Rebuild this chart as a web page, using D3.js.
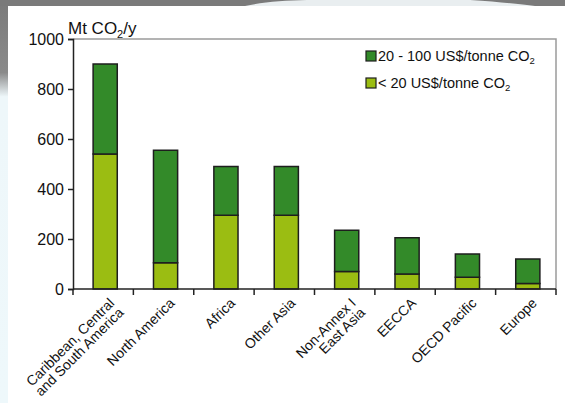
<!DOCTYPE html>
<html>
<head>
<meta charset="utf-8">
<script src="https://cdn.jsdelivr.net/npm/d3@7"></script>
<style>
  html, body { margin: 0; padding: 0; background: #fff; }
  svg { display: block; font-family: "Liberation Sans", Arial, sans-serif; }
</style>
</head>
<body>
<svg id="chart" width="565" height="403"></svg>
<script>
// Regions (two-line labels split on "\n")
const regions = [
  "Caribbean, Central\nand South America",
  "North America",
  "Africa",
  "Other Asia",
  "Non-Annex I\nEast Asia",
  "EECCA",
  "OECD Pacific",
  "Europe"
];
// Potential below 20 US$/tonne CO2 (Mt CO2/y)
const below20 = [540, 105, 295, 295, 70, 60, 47, 22];
// Additional potential at 20-100 US$/tonne CO2 (Mt CO2/y)
const from20to100 = [360, 450, 195, 195, 165, 145, 93, 98];
const yTicks = [0, 200, 400, 600, 800, 1000];
const seriesNames = ["20 - 100 US$/tonne CO", "< 20 US$/tonne CO"];
const colors = { low: "#9bbd12", high: "#338a29" };

const svg = d3.select("#chart");
const W = 565, H = 403;

// slide backdrop
const defs = svg.append("defs");
const lg = defs.append("linearGradient").attr("id", "leftStrip")
  .attr("x1", 0).attr("y1", 0).attr("x2", 0).attr("y2", 1);
lg.append("stop").attr("offset", "0").attr("stop-color", "#7a7a7a");
lg.append("stop").attr("offset", "0.18").attr("stop-color", "#8a8a8a");
lg.append("stop").attr("offset", "0.24").attr("stop-color", "#eef7fa");
lg.append("stop").attr("offset", "1").attr("stop-color", "#eef8fb");
svg.append("rect").attr("width", W).attr("height", H).attr("fill", "#fff");
svg.append("rect").attr("x", 0).attr("y", 0).attr("width", 8).attr("height", H).attr("fill", "url(#leftStrip)");
svg.append("rect").attr("x", 0).attr("y", 0).attr("width", W).attr("height", 6).attr("fill", "#7a7a7a");
svg.append("path")
  .attr("d", "M245,6 C280,-2 330,0 380,0 L470,0 C500,2 520,4 535,6 Z")
  .attr("fill", "#e9eef0");

const margin = { left: 73, top: 39, right: 9, bottom: 114 };
const x0 = margin.left, x1 = W - margin.right;
const yBase = H - margin.bottom;

const x = d3.scaleBand().domain(regions).range([x0 + 2, x1 + 2]).paddingInner(0.6).paddingOuter(0.3);
const xTicksScale = d3.scaleBand().domain(regions).range([x0, x1]);
const y = d3.scaleLinear().domain([0, 1000]).range([yBase, margin.top]);

// plot frame (top and right)
svg.append("path")
  .attr("d", `M${x0},${margin.top}H${x1}V${yBase}`)
  .attr("fill", "none").attr("stroke", "#9a9a9a").attr("stroke-width", 1.5);

// stacked bars
const stackData = regions.map((r, i) => ({ region: r, low: below20[i], high: from20to100[i] }));
const stack = d3.stack().keys(["low", "high"])(stackData);
svg.append("g").selectAll("g").data(stack).join("g")
  .attr("fill", d => colors[d.key])
  .selectAll("rect").data(d => d).join("rect")
  .attr("x", d => x(d.data.region))
  .attr("width", x.bandwidth())
  .attr("y", d => y(d[1]))
  .attr("height", d => y(d[0]) - y(d[1]))
  .attr("stroke", "#1e1e1e").attr("stroke-width", 1.5);

// y axis
const yAxis = svg.append("g").attr("transform", `translate(${x0},0)`)
  .call(d3.axisLeft(y).tickValues(yTicks).tickFormat(d3.format("d")).tickSize(5).tickPadding(4));
yAxis.attr("font-family", null).attr("font-size", null);
yAxis.select(".domain").attr("stroke", "#222").attr("stroke-width", 1.5);
yAxis.selectAll(".tick line").attr("stroke", "#222").attr("stroke-width", 1.5);
yAxis.selectAll(".tick text").attr("font-size", 16).attr("fill", "#111");

// x axis baseline and boundary ticks
const xAxis = svg.append("g");
xAxis.append("line").attr("x1", x0).attr("x2", x1).attr("y1", yBase).attr("y2", yBase)
  .attr("stroke", "#222").attr("stroke-width", 1.5);
const bounds = regions.map(r => xTicksScale(r)).concat([x1]);
xAxis.selectAll(".bt").data(bounds).join("line")
  .attr("x1", d => d).attr("x2", d => d).attr("y1", yBase).attr("y2", yBase + 6)
  .attr("stroke", "#222").attr("stroke-width", 1.5);

// category labels, rotated
const labels = svg.append("g").selectAll("text").data(regions).join("text")
  .attr("transform", r => `translate(${xTicksScale(r) + xTicksScale.bandwidth() / 2 + 9},${yBase + 12}) rotate(-45)`)
  .attr("text-anchor", "end").attr("font-size", 14).attr("fill", "#111");
labels.each(function(r) {
  const lines = r.split("\n");
  d3.select(this).selectAll("tspan").data(lines).join("tspan")
    .attr("x", 0).attr("dy", (d, i) => i === 0 ? "0.3em" : "0.95em")
    .text(d => d);
});

// unit label
const unit = svg.append("text").attr("x", 68).attr("y", 34).attr("font-size", 17).attr("fill", "#111");
unit.append("tspan").text("Mt CO");
unit.append("tspan").attr("font-size", 11).attr("dy", 4).text("2");
unit.append("tspan").attr("dy", -4).text("/y");

// legend
const legend = svg.append("g");
const legendItems = [
  { name: seriesNames[0], color: colors.high, y: 51 },
  { name: seriesNames[1], color: colors.low, y: 78 }
];
legendItems.forEach(it => {
  legend.append("rect").attr("x", 366).attr("y", it.y).attr("width", 10).attr("height", 10)
    .attr("fill", it.color).attr("stroke", "#1e1e1e").attr("stroke-width", 1.2);
  const t = legend.append("text").attr("x", 378).attr("y", it.y + 10).attr("font-size", 14.5).attr("fill", "#111");
  t.append("tspan").text(it.name);
  t.append("tspan").attr("font-size", 9.5).attr("dy", 3).text("2");
});
</script>
</body>
</html>
